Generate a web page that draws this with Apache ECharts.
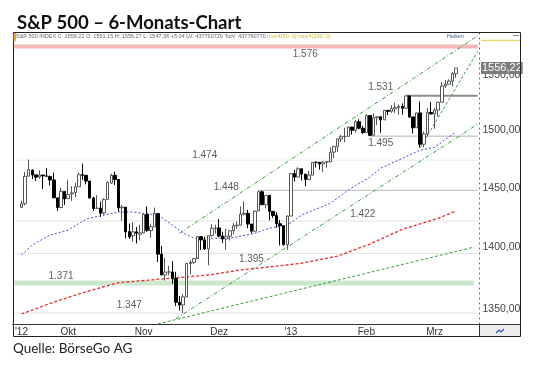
<!DOCTYPE html>
<html><head><meta charset="utf-8">
<script src="https://cdn.jsdelivr.net/npm/echarts@6/dist/echarts.min.js"></script>
<style>html,body{margin:0;padding:0;background:#fff}#c{width:540px;height:365px}</style>
</head><body><div id="c"></div>
<script>
// ---------- data ----------
const dates = [
'2012-09-12','2012-09-13','2012-09-14','2012-09-17','2012-09-18','2012-09-19','2012-09-20','2012-09-21','2012-09-24','2012-09-25','2012-09-26','2012-09-27','2012-09-28',
'2012-10-01','2012-10-02','2012-10-03','2012-10-04','2012-10-05','2012-10-08','2012-10-09','2012-10-10','2012-10-11','2012-10-12','2012-10-15','2012-10-16','2012-10-17','2012-10-18','2012-10-19','2012-10-22','2012-10-23','2012-10-24','2012-10-25','2012-10-26','2012-10-31',
'2012-11-01','2012-11-02','2012-11-05','2012-11-06','2012-11-07','2012-11-08','2012-11-09','2012-11-12','2012-11-13','2012-11-14','2012-11-15','2012-11-16','2012-11-19','2012-11-20','2012-11-21','2012-11-23','2012-11-26','2012-11-27','2012-11-28','2012-11-29','2012-11-30',
'2012-12-03','2012-12-04','2012-12-05','2012-12-06','2012-12-07','2012-12-10','2012-12-11','2012-12-12','2012-12-13','2012-12-14','2012-12-17','2012-12-18','2012-12-19','2012-12-20','2012-12-21','2012-12-24','2012-12-26','2012-12-27','2012-12-28','2012-12-31',
'2013-01-02','2013-01-03','2013-01-04','2013-01-07','2013-01-08','2013-01-09','2013-01-10','2013-01-11','2013-01-14','2013-01-15','2013-01-16','2013-01-17','2013-01-18','2013-01-22','2013-01-23','2013-01-24','2013-01-25','2013-01-28','2013-01-29','2013-01-30','2013-01-31',
'2013-02-01','2013-02-04','2013-02-05','2013-02-06','2013-02-07','2013-02-08','2013-02-11','2013-02-12','2013-02-13','2013-02-14','2013-02-15','2013-02-19','2013-02-20','2013-02-21','2013-02-22','2013-02-25','2013-02-26','2013-02-27','2013-02-28',
'2013-03-01','2013-03-04','2013-03-05','2013-03-06','2013-03-07','2013-03-08','2013-03-11'];
const leadDates = ['2012-09-10','2012-09-11'];
const tailDates = ['2013-03-12','2013-03-13','2013-03-14','2013-03-15','2013-03-18','2013-03-19'];

const opens = [
1433.6,1436.6,1460.1,1465.4,1461.2,1459.5,1461.1,1460.3,1459.8,1456.9,1441.6,1433.4,1447.1,
1440.9,1445.0,1446.1,1451.1,1461.4,1460.9,1455.9,1441.5,1432.8,1432.8,1428.8,1440.3,1454.2,1460.9,1457.3,1433.2,1433.7,1413.2,1409.7,1413.0,1411.0,
1412.2,1427.6,1414.0,1417.3,1428.3,1394.5,1377.6,1379.9,1380.0,1374.6,1355.4,1353.4,1359.9,1386.8,1387.8,1391.0,1409.0,1406.3,1398.8,1410.0,1416.0,
1416.3,1409.5,1407.1,1409.4,1414.0,1418.1,1418.6,1427.8,1428.5,1419.5,1413.5,1430.5,1446.8,1435.8,1443.7,1430.2,1426.7,1419.8,1418.1,1402.4,
1426.2,1462.4,1459.4,1466.5,1461.9,1457.2,1461.0,1472.1,1472.1,1470.7,1472.3,1472.6,1481.0,1486.0,1492.6,1494.8,1494.8,1503.0,1500.2,1507.8,1502.0,
1498.1,1513.2,1495.7,1511.3,1512.1,1509.4,1517.9,1517.0,1519.4,1520.3,1521.4,1519.8,1530.9,1512.0,1502.4,1515.6,1487.9,1496.9,1516.0,
1514.7,1518.2,1525.2,1539.8,1541.5,1544.3,1551.15];
const highs = [
1439.2,1463.8,1474.5,1465.6,1461.5,1465.2,1461.2,1467.1,1460.7,1463.2,1441.6,1450.2,1447.1,
1457.1,1451.5,1454.3,1463.1,1471.0,1460.9,1455.9,1442.5,1443.9,1438.4,1441.3,1455.5,1462.2,1464.0,1457.3,1435.5,1433.7,1420.0,1421.1,1417.1,1418.8,
1428.4,1434.3,1419.9,1433.4,1428.3,1401.2,1391.4,1384.9,1388.8,1380.1,1360.6,1362.0,1386.9,1389.7,1391.3,1409.2,1409.0,1409.0,1410.0,1419.7,1418.9,
1423.7,1413.1,1415.6,1414.0,1420.3,1421.6,1434.3,1438.6,1431.4,1419.5,1430.7,1448.0,1447.8,1443.7,1443.7,1430.2,1429.4,1422.8,1418.1,1426.7,
1462.4,1465.5,1467.9,1466.5,1461.9,1464.7,1472.3,1472.8,1472.1,1473.3,1473.0,1485.2,1486.0,1492.6,1496.1,1502.3,1503.3,1503.2,1509.3,1509.9,1504.2,
1514.4,1513.2,1515.0,1512.5,1512.9,1518.3,1518.3,1522.3,1524.7,1523.1,1524.2,1530.9,1530.9,1512.0,1515.6,1525.8,1499.0,1520.1,1525.3,
1520.0,1525.3,1543.5,1545.3,1545.8,1552.5,1556.27];
const lows = [
1433.0,1435.3,1460.1,1457.6,1456.1,1457.9,1449.1,1459.5,1452.1,1441.6,1430.5,1433.4,1435.6,
1440.9,1439.0,1442.0,1451.1,1456.9,1453.1,1441.2,1430.6,1432.8,1425.5,1427.2,1440.3,1453.4,1452.6,1429.9,1422.1,1407.6,1407.1,1405.1,1403.3,1406.0,
1412.2,1412.9,1408.1,1417.3,1388.1,1377.5,1373.0,1377.2,1370.5,1352.5,1349.0,1347.0,1359.9,1377.9,1386.4,1391.0,1398.0,1398.0,1385.4,1409.0,1411.6,
1408.5,1403.7,1398.2,1405.9,1410.9,1415.6,1418.6,1426.8,1416.0,1411.9,1413.5,1430.5,1435.8,1432.8,1422.6,1424.7,1416.4,1401.8,1401.6,1398.1,
1426.2,1455.5,1459.0,1456.6,1451.6,1457.2,1461.0,1467.6,1465.7,1463.8,1467.5,1472.6,1475.8,1481.2,1489.9,1489.5,1494.8,1496.3,1498.1,1501.0,1496.8,
1498.1,1495.0,1495.7,1504.7,1498.1,1509.4,1513.6,1515.6,1515.6,1514.0,1514.1,1519.8,1511.4,1497.3,1502.4,1485.0,1485.0,1494.9,1514.5,
1501.5,1512.3,1525.2,1538.1,1541.5,1539.4,1547.36];
const closes = [
1436.6,1460.0,1465.8,1461.2,1459.3,1461.1,1460.3,1460.2,1456.9,1441.6,1433.3,1447.2,1440.7,
1444.5,1445.8,1451.0,1461.4,1460.9,1455.9,1441.5,1432.6,1432.8,1428.6,1440.1,1454.9,1460.9,1457.3,1433.2,1433.8,1413.1,1408.8,1413.0,1411.9,1412.2,
1427.6,1414.2,1417.3,1428.4,1394.5,1377.5,1379.9,1380.0,1374.5,1355.5,1353.3,1359.9,1386.9,1387.8,1391.0,1409.2,1406.3,1398.9,1409.9,1416.0,1416.2,
1409.5,1407.1,1409.3,1413.9,1418.1,1418.6,1427.8,1428.5,1419.5,1413.6,1430.4,1446.8,1435.8,1443.7,1430.2,1426.7,1419.8,1418.1,1402.4,1426.2,
1462.4,1459.4,1466.5,1461.9,1457.2,1461.0,1472.1,1472.05,1470.7,1472.3,1472.6,1480.9,1486.0,1492.6,1494.8,1494.8,1503.0,1500.2,1507.8,1502.0,1498.1,
1513.2,1495.7,1511.3,1512.1,1509.4,1517.9,1517.0,1519.4,1520.3,1521.4,1519.8,1530.9,1512.0,1502.4,1515.6,1487.9,1496.9,1516.0,1514.7,
1518.2,1525.2,1539.8,1541.5,1544.3,1551.18,1556.22];

// moving averages [date, value]
const ma50 = [
['2012-09-12',1393.9],['2012-09-17',1402.1],['2012-09-24',1410.4],['2012-10-01',1414.5],['2012-10-08',1423.8],
['2012-10-15',1427.1],['2012-10-19',1429.6],['2012-10-25',1429.6],['2012-11-07',1427.1],['2012-11-13',1418.7],
['2012-11-16',1412.1],['2012-11-21',1407.7],['2012-12-06',1407.7],['2012-12-17',1411.8],['2012-12-21',1416.0],
['2012-12-31',1418.7],['2013-01-07',1427.1],['2013-01-17',1437.0],['2013-01-25',1448.3],['2013-02-04',1459.4],
['2013-02-07',1467.0],['2013-02-14',1474.1],['2013-02-25',1482.8],['2013-03-01',1485.2],['2013-03-11',1498.8]];
const ma200 = [
['2012-09-12',1346.2],['2012-09-24',1354.7],['2012-10-05',1363.2],['2012-10-19',1371.3],['2012-11-05',1373.5],
['2012-11-15',1375.5],['2012-11-28',1377.5],['2012-12-11',1381.6],['2012-12-21',1384.1],['2013-01-07',1387.1],
['2013-01-22',1393.0],['2013-02-04',1402.9],['2013-02-15',1415.1],['2013-03-04',1424.3],['2013-03-11',1430.5]];

// trend lines [start, end]
const trendUpper = [['2012-11-15',1411.9],['2013-03-19',1586.0]];
const trendLowerChannel = [['2012-11-14',1342.5],['2013-03-19',1505.6]];
const trendLong = [['2012-11-07',1338.4],['2013-03-18',1400.4]];
const trendSteep = [['2013-02-25',1485.0],['2013-03-19',1571.5]];

// horizontal levels
const levels      = [1576, 1531, 1495, 1474, 1448, 1422, 1395, 1371, 1347];
const levelStart  = ['2012-09-10','2013-02-19','2013-02-04','2012-09-10','2012-12-18','2012-09-10','2012-09-10','2012-09-10','2012-09-10'];
const levelEnd    = ['2013-03-19','2013-03-19','2013-03-19','2013-03-19','2013-03-19','2013-03-19','2013-03-19','2013-03-18','2013-03-19'];
const levelLabelAt= ['2013-01-08','2013-02-07','2013-02-07','2012-11-27','2012-12-05','2013-01-31','2012-12-14','2012-09-27','2012-10-24'];

const yTicks = [1350, 1400, 1450, 1500, 1550];
const xTickLabels = {'2012-09-12':"'12",'2012-10-01':'Okt','2012-11-01':'Nov','2012-12-03':'Dez','2013-01-02':"'13",'2013-02-01':'Feb','2013-03-01':'Mrz'};
const volumeText = 'LV: 437760720 TotV: 437760770';
const yMin = 1338.3, yMax = 1588.7;

// ---------- styles ----------
const levelStyles = [
  {color:'#f5b8b8', width:4},
  {color:'#8c8c8c', width:2},
  {color:'#b0b0b0', width:1},
  {color:'#ececec', width:1},
  {color:'#b8b8b8', width:1},
  {color:'#e2e2e2', width:1},
  {color:'#e2e2e2', width:1},
  {color:'#cde7cd', width:5},
  {color:'#e2e2e2', width:1}
];
const labelDy = [7.5, -8.5, 7.5, -4.5, -3.5, -7, 5.5, -6.5, -7.5];

// ---------- build ----------
const cats = leadDates.concat(dates, tailDates);
const candleRows = dates.map((d,i)=>[d, opens[i], closes[i], lows[i], highs[i]]);
const de = v => v.toFixed(2).replace('.', ',');
const lvlFmt = v => Math.floor(v/1000) + '.' + String(v%1000).padStart(3,'0');
const n = dates.length - 1;
const change = closes[n] - closes[n-1];

const series = [];
levels.forEach((v,i)=>{
  series.push({type:'line', silent:true, symbol:'none', z:1,
    data:[[levelStart[i], v],[levelEnd[i], v]],
    lineStyle:{color:levelStyles[i].color, width:levelStyles[i].width}});
});
series.push({type:'scatter', silent:true, symbolSize:0, z:3,
  data: levels.map((v,i)=>({value:[levelLabelAt[i], v], label:{offset:[0,labelDy[i]]}})),
  label:{show:true, position:'inside', formatter:p=>lvlFmt(p.value[1]), color:'#333', fontSize:10, fontFamily:'Liberation Sans, Arial'}});
const tl = (d, dash)=>({type:'line', silent:true, symbol:'none', z:2, data:d,
  lineStyle:{color:'#3f9f3f', width:1, type:dash}});
series.push(tl(trendUpper,[4,2,1,2]), tl(trendLowerChannel,[4,2,1,2]), tl(trendLong,[3,2]), tl(trendSteep,[3,2]));
series.push({type:'line', silent:true, symbol:'none', z:3, connectNulls:true, data:ma200,
  lineStyle:{color:'#e03030', width:1.3, type:[3,2]}});
series.push({type:'line', silent:true, symbol:'none', z:3, connectNulls:true, data:ma50,
  lineStyle:{color:'#4a4ad6', width:1, type:[2,2]}});
series.push({type:'candlestick', silent:true, z:5, barWidth:3,
  data:candleRows, encode:{x:0, y:[1,2,3,4]},
  itemStyle:{color:'#ffffff', color0:'#000000', borderColor:'#555555', borderColor0:'#000000', borderWidth:1},
  markLine:{silent:true, symbol:'none', animation:false,
    lineStyle:{color:'rgba(0,0,0,0)', width:0},
    label:{position:'end', distance:3, formatter:p=>de(p.value), color:'#444', fontSize:10.5, fontFamily:'Liberation Sans, Arial'},
    data: yTicks.map(v=>({yAxis:v}))}
});
series.push({type:'line', silent:true, symbol:'none', z:20, data:[[dates[n], closes[n]]],
  markLine:{silent:true, symbol:'none', animation:false,
    lineStyle:{color:'rgba(0,0,0,0)', width:0},
    label:{position:'end', distance:1.5, formatter:p=>de(p.value), color:'#fff', backgroundColor:'#7d7d7d',
      padding:[1,1,0,1], fontSize:11, fontFamily:'Liberation Sans, Arial'},
    data:[{yAxis:closes[n]}]}
});

const header = `{g|S&P 500 INDEX C: ${de(closes[n])} O: ${de(opens[n])} H: ${de(highs[n])} L: ${de(lows[n])} ${change>=0?'+':''}${de(change)} ${volumeText}} {y|mov4(50, 0) mov4(200, 0)}`;

const option = {
  animation:false,
  backgroundColor:'#fff',
  title:{text:'S&P 500 – 6-Monats-Chart', left:12, top:9,
    textStyle:{fontFamily:'Lato', fontWeight:'bold', fontSize:18.5, color:'#111'}},
  grid:{left:12.5, right:60.5, top:33, bottom:41, containLabel:false},
  xAxis:{type:'category', data:cats, boundaryGap:true,
    axisLine:{lineStyle:{color:'#333', width:1}}, axisTick:{show:false}, splitLine:{show:false},
    axisLabel:{interval:(i,v)=>v in xTickLabels, formatter:v=>xTickLabels[v]||'', margin:3,
      fontSize:10, color:'#333', fontFamily:'Liberation Sans, Arial'}},
  yAxis:[
    {type:'log', logBase:10, min:yMin, max:yMax, position:'left',
     axisLine:{show:false}, axisLabel:{show:false}, splitLine:{show:false},
     axisTick:{show:true, inside:true, length:3, lineStyle:{color:'#555'}},
     minorTick:{show:true, splitNumber:4, length:2, lineStyle:{color:'#777'}}},
    {type:'log', logBase:10, min:yMin, max:yMax, position:'right',
     axisLine:{show:true, lineStyle:{color:'#666', width:1, type:[1,4]}},
     axisLabel:{show:false}, axisTick:{show:false}, splitLine:{show:false}}
  ],
  series: series,
  graphic:[
    {type:'rect', silent:true, z:50, shape:{x:13.5, y:32.5, width:507, height:304},
     style:{fill:'none', stroke:'#222', lineWidth:1}},
    {type:'line', silent:true, z:50, shape:{x1:479.5, y1:324.5, x2:521, y2:324.5}, style:{stroke:'#333', lineWidth:1}},
    {type:'line', silent:true, z:50, shape:{x1:479.5, y1:324.5, x2:479.5, y2:336.5}, style:{stroke:'#333', lineWidth:1}},
    {type:'rect', silent:true, z:49, shape:{x:480, y:325, width:40, height:11}, style:{fill:'#eeeeee'}},
    {type:'polyline', silent:true, z:51, shape:{points:[[496,333],[499,330],[501,332],[504,329]]}, style:{stroke:'#2a4fc0', lineWidth:1.2, fill:'none'}},
    {type:'rect', silent:true, z:51, shape:{x:13.5, y:33, width:2.5, height:8}, style:{fill:'#f0a030'}},
    {type:'line', silent:true, z:51, shape:{x1:481, y1:40.5, x2:520, y2:40.5}, style:{stroke:'#e8d878', lineWidth:1.5}},
    {type:'line', silent:true, z:51, shape:{x1:513, y1:35.5, x2:519, y2:35.5}, style:{stroke:'#888', lineWidth:1}},
    {type:'text', silent:true, z:51, x:16, y:36.5,
     style:{text:header, verticalAlign:'middle', fontSize:5.5, fontFamily:'Liberation Sans, Arial',
       rich:{g:{fill:'#666', fontSize:5.5, fontFamily:'Liberation Sans, Arial'}, y:{fill:'#c9c046', fontSize:5.5, fontFamily:'Liberation Sans, Arial'}}}},
    {type:'text', silent:true, z:51, x:447, y:36.5,
     style:{text:'Heiken', verticalAlign:'middle', fontSize:5.5, fill:'#4a5a9a', fontFamily:'Liberation Sans, Arial'}},
    {type:'text', silent:true, z:51, x:13, y:349,
     style:{text:'Quelle: BörseGo AG', verticalAlign:'middle', fontSize:13.5, fill:'#222', fontFamily:'Lato'}}
  ]
};
const chart = echarts.init(document.getElementById('c'), null, {renderer:'canvas'});
chart.setOption(option);
</script>
</body></html>
